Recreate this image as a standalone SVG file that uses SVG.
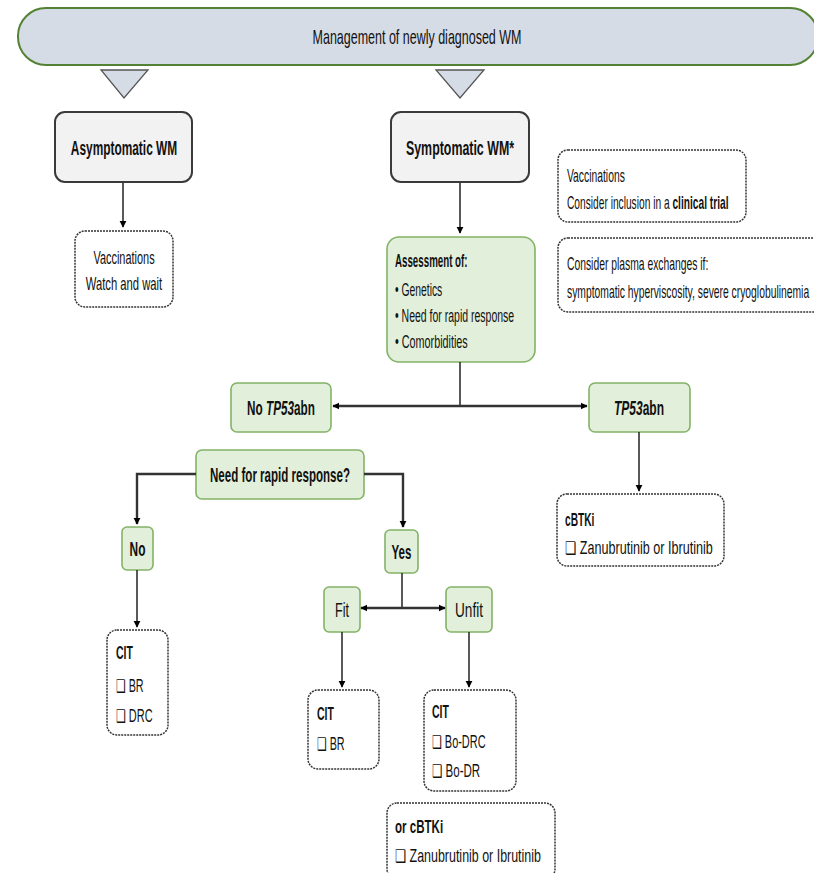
<svg xmlns="http://www.w3.org/2000/svg" width="814" height="873" viewBox="0 0 814 873">
<defs>
<marker id="ah" viewBox="0 0 10 10" refX="9" refY="5" markerWidth="7" markerHeight="8" orient="auto-start-reverse" markerUnits="userSpaceOnUse">
<path d="M0,0 L10,5 L0,10 z" fill="#000"/>
</marker>
<style>
text{font-family:"Liberation Sans","DejaVu Sans",sans-serif;fill:#111;}
.t{font-size:20px;}
.s{font-size:17.5px;}
.b{font-weight:bold;}
.i{font-style:italic;}
.c{text-anchor:middle;}
.gray{fill:#f2f2f2;stroke:#3a3a3a;stroke-width:2;}
.green{fill:#e2efda;stroke:#82b366;stroke-width:1.6;}
.dash{fill:#fff;stroke:#333;stroke-width:1.5;stroke-dasharray:2 1;}
.tri{fill:#d6dce5;stroke:#555;stroke-width:1.3;}
.ln{fill:none;stroke:#222;stroke-width:1.5;}
.ln2{fill:none;stroke:#333;stroke-width:2.4;}
</style>
</defs>

<g id="title">
<rect x="18" y="8" width="800" height="57" rx="28" fill="#d6dce5" stroke="#548235" stroke-width="2"/>
<text transform="translate(417 44) scale(0.625 1)" class="t c">Management of newly diagnosed WM</text>
</g>
<g id="tri-left"><polygon class="tri" points="101,70 148,70 124,98"/></g>
<g id="tri-center"><polygon class="tri" points="436,70 484,70 460,98"/></g>

<g id="asymptomatic">
<rect class="gray" x="55" y="112" width="137" height="70" rx="10"/>
<text transform="translate(124 155) scale(0.595 1)" class="t b c">Asymptomatic WM</text>
</g>
<g id="watch">
<rect class="dash" x="75" y="231" width="98" height="76" rx="10"/>
<text transform="translate(124 264) scale(0.626 1)" class="s c">Vaccinations</text>
<text transform="translate(124 290) scale(0.643 1)" class="s c">Watch and wait</text>
</g>

<g id="symptomatic">
<rect class="gray" x="391" y="112" width="138" height="70" rx="10"/>
<text transform="translate(460 155) scale(0.62 1)" class="t b c">Symptomatic WM*</text>
</g>

<g id="note1">
<rect class="dash" x="558" y="150" width="188" height="72" rx="10"/>
<text transform="translate(567 182) scale(0.591 1)" class="s">Vaccinations</text>
<text transform="translate(567 209) scale(0.583 1)" class="s">Consider inclusion in a <tspan class="b">clinical trial</tspan></text>
</g>
<g id="note2">
<rect class="dash" x="558" y="238" width="270" height="74" rx="10"/>
<text transform="translate(567 270) scale(0.591 1)" class="s">Consider plasma exchanges if:</text>
<text transform="translate(567 298) scale(0.591 1)" class="s">symptomatic hyperviscosity, severe cryoglobulinemia</text>
</g>

<g id="assessment">
<rect class="green" x="387" y="237" width="148" height="125" rx="12"/>
<text transform="translate(395 267) scale(0.557 1)" class="s b">Assessment of:</text>
<text transform="translate(395 296) scale(0.591 1)" class="s">• Genetics</text>
<text transform="translate(395 322) scale(0.60 1)" class="s">• Need for rapid response</text>
<text transform="translate(395 348) scale(0.617 1)" class="s">• Comorbidities</text>
</g>

<g id="no-tp53">
<rect class="green" x="231" y="383" width="100" height="49" rx="6"/>
<text transform="translate(281 415) scale(0.587 1)" class="t b c">No <tspan class="i">TP53</tspan>abn</text>
</g>
<g id="tp53">
<rect class="green" x="589" y="383" width="101" height="49" rx="6"/>
<text transform="translate(639 415) scale(0.60 1)" class="t b c"><tspan class="i">TP53</tspan>abn</text>
</g>

<g id="cbtki">
<rect class="dash" x="557" y="494" width="167" height="72" rx="10"/>
<text transform="translate(565 526) scale(0.583 1)" class="s b">cBTKi</text>
<text transform="translate(565 554) scale(0.72 1)" class="s">❑ Zanubrutinib or Ibrutinib</text>
</g>

<g id="rapid">
<rect class="green" x="196" y="450" width="168" height="49" rx="6"/>
<text transform="translate(280 482) scale(0.578 1)" class="t b c">Need for rapid response?</text>
</g>

<g id="no">
<rect class="green" x="122" y="527" width="31" height="43" rx="5"/>
<text transform="translate(137.5 556) scale(0.595 1)" class="t b c">No</text>
</g>
<g id="yes">
<rect class="green" x="385" y="530" width="33" height="43" rx="5"/>
<text transform="translate(401.5 559) scale(0.578 1)" class="t b c">Yes</text>
</g>

<g id="cit-no">
<rect class="dash" x="107" y="630" width="61" height="105" rx="10"/>
<text transform="translate(116 659) scale(0.6 1)" class="s b">CIT</text>
<text transform="translate(116 692) scale(0.617 1)" class="s">❑ BR</text>
<text transform="translate(116 722) scale(0.626 1)" class="s">❑ DRC</text>
</g>

<g id="fit">
<rect class="green" x="324" y="587" width="36" height="45" rx="5"/>
<text transform="translate(342 617) scale(0.63 1)" class="t c">Fit</text>
</g>
<g id="unfit">
<rect class="green" x="446" y="587" width="46" height="45" rx="5"/>
<text transform="translate(469 617) scale(0.68 1)" class="t c">Unfit</text>
</g>

<g id="cit-fit">
<rect class="dash" x="308" y="690" width="71" height="79" rx="10"/>
<text transform="translate(317 720) scale(0.6 1)" class="s b">CIT</text>
<text transform="translate(317 750) scale(0.617 1)" class="s">❑ BR</text>
</g>
<g id="cit-unfit">
<rect class="dash" x="424" y="690" width="92" height="101" rx="10"/>
<text transform="translate(432 718) scale(0.6 1)" class="s b">CIT</text>
<text transform="translate(432 748) scale(0.626 1)" class="s">❑ Bo-DRC</text>
<text transform="translate(432 777) scale(0.66 1)" class="s">❑ Bo-DR</text>
</g>
<g id="cbtki-unfit">
<rect class="dash" x="387" y="803" width="168" height="76" rx="10"/>
<text transform="translate(395 833) scale(0.66 1)" class="s b">or cBTKi</text>
<text transform="translate(395 862) scale(0.711 1)" class="s">❑ Zanubrutinib or Ibrutinib</text>
</g>

<g id="connectors">
<line class="ln" x1="123" y1="183" x2="123" y2="227" marker-end="url(#ah)"/>
<line class="ln" x1="460" y1="183" x2="460" y2="233" marker-end="url(#ah)"/>
<line class="ln" x1="460" y1="362" x2="460" y2="406"/>
<line class="ln2" x1="333" y1="406" x2="587" y2="406" marker-start="url(#ah)" marker-end="url(#ah)"/>
<line class="ln" x1="639" y1="432" x2="639" y2="491" marker-end="url(#ah)"/>
<polyline class="ln2" points="196,474 137,474 137,524" marker-end="url(#ah)"/>
<polyline class="ln2" points="364,474 403,474 403,527" marker-end="url(#ah)"/>
<line class="ln" x1="137" y1="570" x2="137" y2="627" marker-end="url(#ah)"/>
<line class="ln" x1="402" y1="573" x2="402" y2="607"/>
<line class="ln2" x1="361" y1="608" x2="445" y2="608" marker-start="url(#ah)" marker-end="url(#ah)"/>
<line class="ln" x1="342" y1="632" x2="342" y2="687" marker-end="url(#ah)"/>
<line class="ln" x1="469" y1="632" x2="469" y2="687" marker-end="url(#ah)"/>
</g>
</svg>
